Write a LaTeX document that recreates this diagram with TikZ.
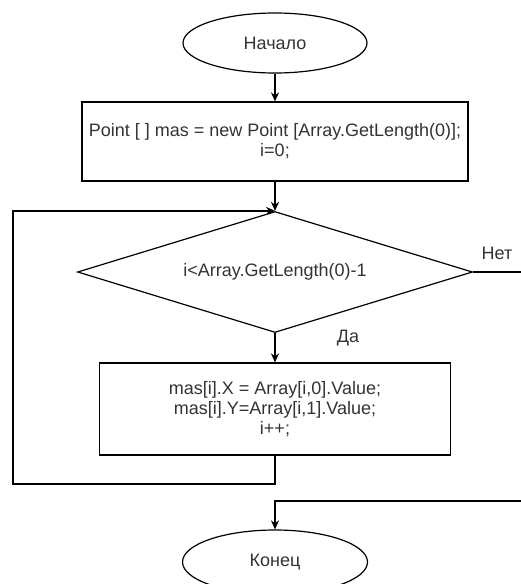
\documentclass[tikz,border=0pt]{standalone}
\usepackage{fontspec}
\setmainfont{Liberation Sans}
\usetikzlibrary{shapes.geometric, arrows.meta}

\begin{document}
\begin{tikzpicture}[x=1pt, y=-1pt, line width=1.2pt,
  every node/.style={font=\fontsize{18}{20}\selectfont, text=black!80},
  terminal/.style={draw=black, ellipse, inner sep=0pt, minimum width=184pt, minimum height=60pt},
  process/.style={draw=black, rectangle, align=center, inner sep=0pt},
  decision/.style={draw=black, diamond, aspect=3.26, inner sep=0pt, minimum width=395pt, minimum height=121pt},
  flow/.style={-{Stealth[length=9pt, width=8pt]}}]

% picture frame
\useasboundingbox (0,0) rectangle (521,584);
\clip (0,0) rectangle (521,584);

% blocks
\node[terminal] (start) at (275,43) {Начало};
\node[process, minimum width=386pt, minimum height=79pt] (init) at (275,141.5) {Point [ ] mas = new Point [Array.GetLength(0)];\\ i=0;};
\node[decision] (cond) at (275,272) {i<Array.GetLength(0)-1};
\node[process, minimum width=351pt, minimum height=92pt] (body) at (275,409) {mas[i].X = Array[i,0].Value;\\ mas[i].Y=Array[i,1].Value;\\ i++;};
\node[terminal, minimum width=185pt, minimum height=64pt] (stop) at (275,562) {Конец};

% branch labels
\node (no) at (497,253) {Нет};
\node (yes) at (348,338) {Да};

% helper corners
\coordinate (loopbot) at (13,484);
\coordinate (exitR) at (530,501);

% connectors
\draw[flow] (start) -- (init);
\draw[flow] (init) -- (cond);
\draw[flow] (cond) -- (body);
\draw[flow] (body.south) |- (loopbot) |- (cond.north);
\draw[flow] (cond.east) -| (exitR) -| (stop.north);

\end{tikzpicture}
\end{document}
